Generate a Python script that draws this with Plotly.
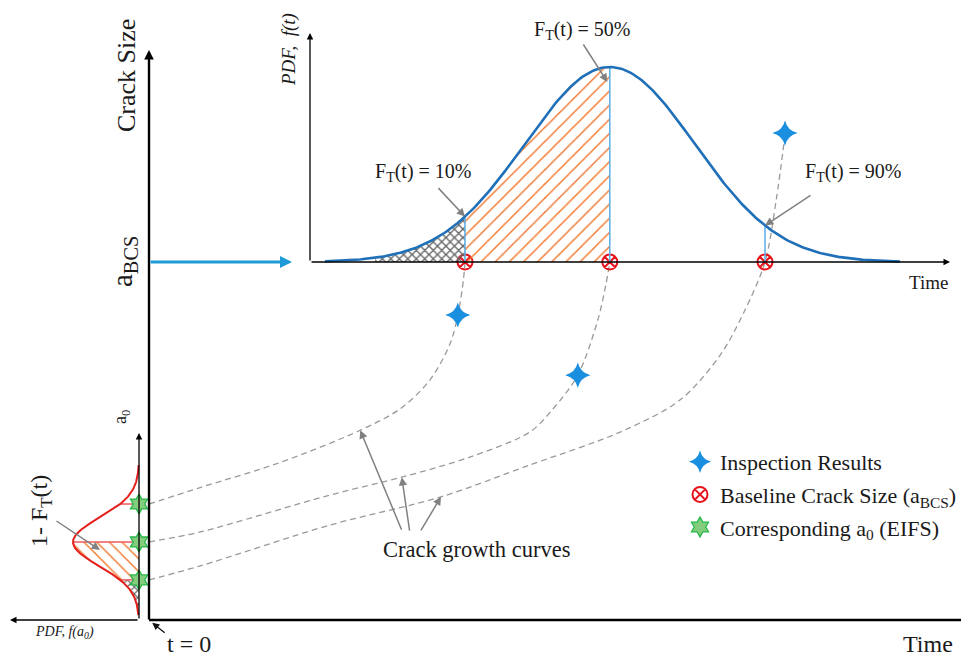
import numpy as np
import plotly.graph_objects as go

W, H = 962, 657
SERIF = "Liberation Serif"
INK = "#1a1a1a"

# ---------------------------------------------------------------- data
# service-life distribution of the time to reach the baseline crack size
t_mean = 5.76
t_sd = 1.06
t_fraction_labels = ["F<sub>T</sub>(t) = 10%", "F<sub>T</sub>(t) = 50%", "F<sub>T</sub>(t) = 90%"]
t_at_bcs = [3.95, 5.76, 7.70]
a_bcs = 1.0

# equivalent initial flaw size (EIFS) distribution
a0_mean = 0.218
a0_sd = 0.067
a0_eifs = [0.324, 0.218, 0.112]

# crack growth curves (time, crack size)
growth_t1 = [0.0, 0.64, 1.64, 2.64, 3.14, 3.51, 3.76, 3.86, 3.93, 3.95]
growth_a1 = [0.324, 0.37, 0.44, 0.53, 0.59, 0.67, 0.77, 0.85, 0.95, 1.0]
growth_t2 = [0.0, 0.64, 2.26, 3.16, 4.01, 4.76, 5.04, 5.36, 5.61, 5.71, 5.76]
growth_a2 = [0.218, 0.246, 0.349, 0.399, 0.455, 0.525, 0.587, 0.684, 0.838, 0.936, 1.0]
growth_t3 = [0.0, 0.64, 2.26, 3.65, 4.76, 5.89, 6.64, 7.14, 7.45, 7.70, 7.84, 7.95]
growth_a3 = [0.112, 0.151, 0.265, 0.344, 0.433, 0.525, 0.615, 0.740, 0.866, 1.0, 1.173, 1.355]

# inspection results
insp_t = [3.86, 5.36, 7.95]
insp_a = [0.852, 0.684, 1.36]

# ---------------------------------------------------------------- scales (pixels per unit)
T0_PX, PX_PER_T = 149, 80.0          # time axis
A0_PY, PX_PER_A = 620, 358.0         # crack size axis
PDF_BASE_PY, PX_PER_PDF = 262, 195.0  # f(t) inset (peak = 1)
A0_AXIS_PX, PX_PER_G = 139, 66.0     # f(a0) side plot (peak = 1)


def pdf_t(t):
    return np.exp(-0.5 * ((np.asarray(t) - t_mean) / t_sd) ** 2)


def pdf_a0(a):
    return np.exp(-0.5 * ((np.asarray(a) - a0_mean) / a0_sd) ** 2)


def t_of_px(px):
    return (px - T0_PX) / PX_PER_T


def a_of_py(py):
    return (A0_PY - py) / PX_PER_A


def f_of_py(py):
    return (PDF_BASE_PY - py) / PX_PER_PDF


def g_of_px(px):
    return (A0_AXIS_PX - px) / PX_PER_G


ORANGE = "#f07a32"
GRAY_HATCH = "#666666"


def hatch(shape, color, size, solidity):
    return dict(shape=shape, fgcolor=color, fgopacity=1, bgcolor="rgba(255,255,255,0)",
                size=size, solidity=solidity)


fig = go.Figure()

# ---------------------------------------------------------------- f(t) inset
t_curve = np.linspace(t_of_px(325), t_of_px(900), 300)
t_gray = np.linspace(t_of_px(375), t_at_bcs[0], 80)
t_orange = np.linspace(t_at_bcs[0], t_at_bcs[1], 120)

fig.add_trace(go.Scatter(
    x=np.r_[t_gray, t_gray[::-1]], y=np.r_[pdf_t(t_gray), np.zeros_like(t_gray)],
    xaxis="x", yaxis="y3", mode="none", fill="toself", fillcolor="rgba(0,0,0,0)",
    fillpattern=hatch("x", GRAY_HATCH, 6, 0.4), showlegend=False, hoverinfo="skip"))
fig.add_trace(go.Scatter(
    x=np.r_[t_orange, t_orange[::-1]], y=np.r_[pdf_t(t_orange), np.zeros_like(t_orange)],
    xaxis="x", yaxis="y3", mode="none", fill="toself", fillcolor="rgba(0,0,0,0)",
    fillpattern=hatch("/", ORANGE, 10, 0.15), showlegend=False, hoverinfo="skip"))
for tq in t_at_bcs:
    fig.add_trace(go.Scatter(x=[tq, tq], y=[0, float(pdf_t(tq))], xaxis="x", yaxis="y3",
                             mode="lines", line=dict(color="#5aaee6", width=1.5),
                             showlegend=False, hoverinfo="skip"))
fig.add_trace(go.Scatter(x=t_curve, y=pdf_t(t_curve), xaxis="x", yaxis="y3", mode="lines",
                         line=dict(color="#1f70b8", width=2.6), showlegend=False, hoverinfo="skip"))

# ---------------------------------------------------------------- f(a0) side plot
a_curve = np.linspace(a_of_py(615), a_of_py(465), 300)
a_gray = np.linspace(a_of_py(612), a0_eifs[2], 60)
a_orange = np.linspace(a0_eifs[2], a0_eifs[1], 80)
fig.add_trace(go.Scatter(
    x=np.r_[pdf_a0(a_gray), np.zeros_like(a_gray)], y=np.r_[a_gray, a_gray[::-1]],
    xaxis="x2", yaxis="y", mode="none", fill="toself", fillcolor="rgba(0,0,0,0)",
    fillpattern=hatch("x", GRAY_HATCH, 5, 0.4), showlegend=False, hoverinfo="skip"))
fig.add_trace(go.Scatter(
    x=np.r_[pdf_a0(a_orange), np.zeros_like(a_orange)], y=np.r_[a_orange, a_orange[::-1]],
    xaxis="x2", yaxis="y", mode="none", fill="toself", fillcolor="rgba(0,0,0,0)",
    fillpattern=hatch("\\", ORANGE, 9, 0.16), showlegend=False, hoverinfo="skip"))
for a0 in a0_eifs:
    fig.add_trace(go.Scatter(x=[float(pdf_a0(a0)), 0], y=[a0, a0], xaxis="x2", yaxis="y",
                             mode="lines", line=dict(color="#ee5a5a", width=1.5),
                             showlegend=False, hoverinfo="skip"))
fig.add_trace(go.Scatter(x=pdf_a0(a_curve), y=a_curve, xaxis="x2", yaxis="y", mode="lines",
                         line=dict(color="#e3201b", width=2), showlegend=False, hoverinfo="skip"))

# ---------------------------------------------------------------- crack growth curves
for gt, ga in [(growth_t1, growth_a1), (growth_t2, growth_a2), (growth_t3, growth_a3)]:
    fig.add_trace(go.Scatter(x=gt, y=ga, xaxis="x", yaxis="y", mode="lines",
                             line=dict(color="#9a9a9a", width=1.3, dash="6px,4px",
                                       shape="spline", smoothing=0.9),
                             showlegend=False, hoverinfo="skip"))

# ---------------------------------------------------------------- markers (legend)
fig.add_trace(go.Scatter(x=insp_t, y=insp_a, xaxis="x", yaxis="y", mode="markers",
                         name="Inspection Results", legendgroup="g1",
                         marker=dict(symbol="star-diamond", size=18, color="#1a8fe0",
                                     line=dict(width=0))))
fig.add_trace(go.Scatter(x=t_at_bcs, y=[a_bcs] * 3, xaxis="x", yaxis="y", mode="markers",
                         name="Baseline Crack Size (a<sub>BCS</sub>)", legendgroup="g2",
                         marker=dict(symbol="circle-x-open", size=15, color="#e8141c",
                                     line=dict(width=2, color="#e8141c"))))
fig.add_trace(go.Scatter(x=[0, 0, 0], y=a0_eifs, xaxis="x2", yaxis="y", mode="markers",
                         name="Corresponding a<sub>0</sub> (EIFS)", legendgroup="g3",
                         marker=dict(symbol="hexagram", size=15, color="#84cc7e",
                                     line=dict(width=1.3, color="#26b84a"))))


# ---------------------------------------------------------------- annotations
def label(text, px, py, size, angle=0):
    return dict(xref="paper", yref="paper", x=px / W, y=1 - py / H, text=text,
                showarrow=False, textangle=angle, xanchor="center", yanchor="middle",
                font=dict(family=SERIF, size=size, color=INK))


def pointer(x, y, xref, yref, dx, dy, color="#808080", width=1.5):
    return dict(x=x, y=y, xref=xref, yref=yref, ax=dx, ay=dy, text="", showarrow=True,
                arrowhead=2, arrowsize=1.1, arrowwidth=width, arrowcolor=color)


def axis_arrow(x_tip, y_tip, x_tail, y_tail, xref, yref, width, color="#000000", size=1.0):
    return dict(x=x_tip, y=y_tip, ax=x_tail, ay=y_tail, xref=xref, yref=yref,
                axref=xref, ayref=yref, text="", showarrow=True, arrowhead=2,
                arrowsize=size, arrowwidth=width, arrowcolor=color)


annotations = [
    # main axes
    axis_arrow(0, a_of_py(50), 0, a_of_py(621), "x", "y", 2.4, size=0.8),
    # a_BCS transfer arrow
    axis_arrow(t_of_px(292), a_bcs, 0, a_bcs, "x", "y", 3, color="#1e9bd7", size=0.8),
    # inset axes
    axis_arrow(t_of_px(310), f_of_py(33), t_of_px(310), 0, "x", "y3", 1.3),
    axis_arrow(t_of_px(950), 0, t_of_px(310), 0, "x", "y3", 1.3),
    # side plot axes
    axis_arrow(0, a_of_py(433), 0, 0, "x2", "y", 1.3),
    axis_arrow(g_of_px(10), 0, 0, 0, "x2", "y", 1.3),
    # pointers
    pointer(t_at_bcs[0], float(pdf_t(t_at_bcs[0])), "x", "y3", -28, -30),
    pointer(t_at_bcs[1] - 0.03, f_of_py(82), "x", "y3", -25, -39),
    pointer(t_at_bcs[2], float(pdf_t(t_at_bcs[2])), "x", "y3", 47, -31),
    pointer(growth_t1[3], growth_a1[3], "x", "y", 42, 101),
    pointer(growth_t2[3], growth_a2[3], "x", "y", 8, 55),
    pointer(growth_t3[3], growth_a3[3], "x", "y", -21, 35),
    pointer(g_of_px(100), a_of_py(550), "x2", "y", -45, -30),
    pointer(0.04, -0.008, "x", "y", 14, 11, color="#111111", width=1.3),
    # texts
    label("Crack Size", 126, 76, 26, -90),
    label("a<sub>BCS</sub>", 124, 262, 29, -90),
    label("<i>PDF,  f(t)</i>", 289, 50, 19, -90),
    label(t_fraction_labels[0], 423, 172, 20),
    label(t_fraction_labels[1], 582, 30, 20),
    label(t_fraction_labels[2], 853, 172, 20),
    label("Time", 928, 282, 19),
    label("Time", 928, 644, 24),
    label("t = 0", 189, 644, 24),
    label("Crack growth curves", 476, 549, 22.5),
    label("a<sub>0</sub>", 121, 417, 18, -90),
    label("1- F<sub>T</sub>(t)", 41, 511, 24, -90),
    label("<i>PDF, f(a<sub>0</sub>)</i>", 64, 632, 14),
]

shapes = [
    dict(type="line", xref="x", yref="y", x0=-0.015, y0=0, x1=t_of_px(961), y1=0,
         line=dict(color="#000000", width=2.4)),
]

fig.update_layout(
    width=W, height=H, margin=dict(l=0, r=0, t=0, b=0),
    paper_bgcolor="white", plot_bgcolor="white",
    xaxis=dict(domain=[T0_PX / W, 1], range=[0, t_of_px(W)], visible=False, fixedrange=True),
    yaxis=dict(domain=[0, 1], range=[a_of_py(H), a_of_py(0)], visible=False, fixedrange=True),
    xaxis2=dict(domain=[0, T0_PX / W], range=[g_of_px(0), g_of_px(T0_PX)], anchor="y",
                visible=False, fixedrange=True),
    yaxis3=dict(overlaying="y", anchor="x", range=[f_of_py(H), f_of_py(0)],
                visible=False, fixedrange=True),
    showlegend=True,
    legend=dict(x=680 / W, y=1 - 441 / H, xanchor="left", yanchor="top",
                bgcolor="rgba(0,0,0,0)", tracegroupgap=1,
                font=dict(family=SERIF, size=22, color=INK)),
    annotations=annotations,
    shapes=shapes,
)

fig.write_html("out.html")
